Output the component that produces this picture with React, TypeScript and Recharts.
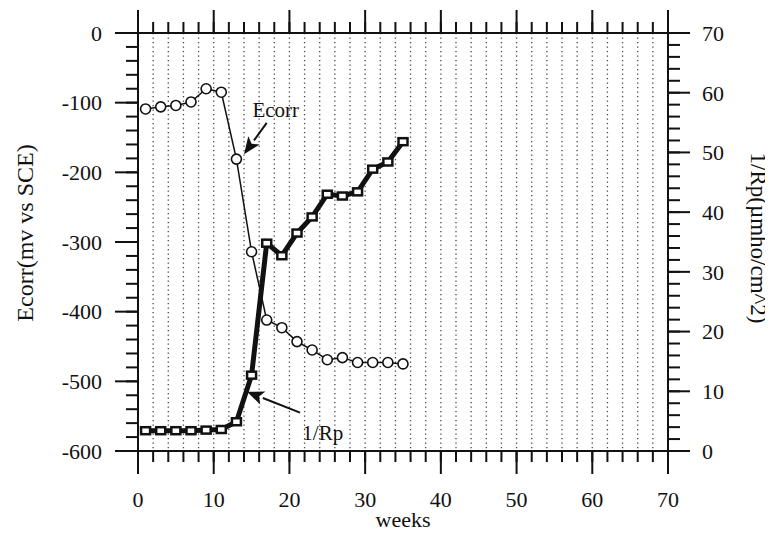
import { ComposedChart, Line, XAxis, YAxis, CartesianGrid, ReferenceLine, ReferenceDot } from 'recharts';

// weeks of exposure
const weeks = [1, 3, 5, 7, 9, 11, 13, 15, 17, 19, 21, 23, 25, 27, 29, 31, 33, 35];
// corrosion potential, mV vs SCE (left axis)
const ecorr = [-109, -106, -104, -99, -80, -85, -181, -314, -412, -423, -443, -455, -469, -466, -473, -473, -473, -475];
// 1/Rp, umho/cm^2 (right axis)
const invRp = [3.4, 3.4, 3.4, 3.4, 3.5, 3.6, 4.9, 12.7, 34.8, 32.7, 36.5, 39.2, 43, 42.7, 43.4, 47.2, 48.4, 51.8];

const weekMajor = [0, 10, 20, 30, 40, 50, 60, 70];
const weekMinor = [0, 2, 4, 6, 8, 10, 12, 14, 16, 18, 20, 22, 24, 26, 28, 30, 32, 34, 36, 38, 40, 42, 44, 46, 48, 50, 52, 54, 56, 58, 60, 62, 64, 66, 68, 70];
const ecorrMajor = [-600, -500, -400, -300, -200, -100, 0];
const ecorrMinor = [-600, -580, -560, -540, -520, -500, -480, -460, -440, -420, -400, -380, -360, -340, -320, -300, -280, -260, -240, -220, -200, -180, -160, -140, -120, -100, -80, -60, -40, -20, 0];
const rpMajor = [0, 10, 20, 30, 40, 50, 60, 70];
const rpMinor = [0, 2, 4, 6, 8, 10, 12, 14, 16, 18, 20, 22, 24, 26, 28, 30, 32, 34, 36, 38, 40, 42, 44, 46, 48, 50, 52, 54, 56, 58, 60, 62, 64, 66, 68, 70];

// annotation anchors, in data units (weeks, mV)
const ecorrArrow = { tail: [17.0, -129], head: [14.0, -174], text: [18.2, -110] };
const rpArrow = { tail: [21.4, -545], head: [14.4, -515], text: [24.4, -574] };

const data = weeks.map((w, i) => ({ week: w, ecorr: ecorr[i], rp: invRp[i] }));

const FONT = '"Liberation Serif", "Times New Roman", serif';
const INK = '#111';
const tickStyle = { fontSize: 22, fill: INK, fontFamily: FONT };
const tickLineStyle = { stroke: INK, strokeWidth: 2 };
const axisLineStyle = { stroke: INK, strokeWidth: 2 };
const noTick = () => null;

const leftTitle = {
  value: 'Ecorr(mv vs SCE)',
  angle: -90,
  position: 'insideLeft',
  offset: 16,
  dy: -9,
  fontSize: 24,
  fill: INK,
  fontFamily: FONT,
  style: { textAnchor: 'middle' },
};
const rightTitle = {
  value: '1/Rp(µmho/cm^2)',
  angle: 90,
  position: 'insideRight',
  offset: 14,
  dy: -4,
  fontSize: 23,
  fill: INK,
  fontFamily: FONT,
  style: { textAnchor: 'middle' },
};
const ecorrDot = { r: 5, fill: '#fff', stroke: INK, strokeWidth: 1.6 };

const Arrow = ({ x1, y1, x2, y2 }: any) => {
  const dx = x2 - x1;
  const dy = y2 - y1;
  const len = Math.sqrt(dx * dx + dy * dy);
  const ux = dx / len;
  const uy = dy / len;
  const hl = 17;
  const hw = 7;
  const bx = x2 - ux * hl;
  const by = y2 - uy * hl;
  return (
    <g>
      <line x1={x1} y1={y1} x2={bx} y2={by} stroke={INK} strokeWidth={2} />
      <polygon
        points={`${x2},${y2} ${bx - uy * hw},${by + ux * hw} ${bx + ux * 4},${by + uy * 4} ${bx + uy * hw},${by - ux * hw}`}
        fill={INK}
      />
    </g>
  );
};

const textShape = (label: string) => ({ cx, cy }: any) => (
  <text x={cx} y={cy} dy="0.35em" textAnchor="middle" fontSize={21} fill={INK} fontFamily={FONT}>
    {label}
  </text>
);
const ecorrText = textShape('Ecorr');
const rpText = textShape('1/Rp');

const SquareDot = ({ cx, cy, index }: any) => (
  <rect key={index} x={cx - 4.5} y={cy - 3.5} width={9} height={7} fill="#fff" stroke={INK} strokeWidth={2.5} />
);

const WeeksLabel = ({ viewBox }: any) => (
  <text
    x={viewBox.x + viewBox.width / 2}
    y={viewBox.y + 75}
    textAnchor="middle"
    fontSize={22}
    fill={INK}
    fontFamily={FONT}
  >
    weeks
  </text>
);
const weeksLabel = <WeeksLabel />;
const squareDot = <SquareDot />;

export default function App() {
  return (
    <div style={{ width: 765, height: 550, marginBottom: -8 }}>
      <ComposedChart
        width={765}
        height={550}
        data={data}
        margin={{ top: 0, right: 0, bottom: 0, left: 0 }}
        style={{ fontFamily: FONT }}
      >
        {/* "a-" axes are 1px thick and hold the short ticks on the frame,
            "b-" axes sit outside them with the long ticks and labels */}
        <XAxis
          xAxisId="a-bottom"
          type="number"
          dataKey="week"
          domain={[0, 70]}
          ticks={weekMinor}
          interval={0}
          height={1}
          tickSize={11}
          tickLine={tickLineStyle}
          tick={noTick}
          axisLine={axisLineStyle}
        />
        <XAxis
          xAxisId="b-bottom"
          dataKey="week"
          type="number"
          domain={[0, 70]}
          ticks={weekMajor}
          interval={0}
          height={106}
          tickSize={22}
          tickMargin={17}
          tickLine={tickLineStyle}
          tick={tickStyle}
          axisLine={false}
          label={weeksLabel}
        />
        <XAxis
          xAxisId="a-top"
          orientation="top"
          type="number"
          dataKey="week"
          domain={[0, 70]}
          ticks={weekMinor}
          interval={0}
          height={1}
          tickSize={11}
          tickLine={tickLineStyle}
          tick={noTick}
          axisLine={axisLineStyle}
        />
        <XAxis
          xAxisId="b-top"
          orientation="top"
          type="number"
          dataKey="week"
          domain={[0, 70]}
          ticks={weekMajor}
          interval={0}
          height={24}
          tickSize={22}
          tickLine={tickLineStyle}
          tick={noTick}
          axisLine={false}
        />
        <YAxis
          yAxisId="a-left"
          type="number"
          dataKey="ecorr"
          domain={[-600, 0]}
          ticks={ecorrMinor}
          interval={0}
          width={1}
          tickSize={12}
          tickLine={tickLineStyle}
          tick={noTick}
          axisLine={axisLineStyle}
        />
        <YAxis
          yAxisId="b-left"
          type="number"
          dataKey="ecorr"
          domain={[-600, 0]}
          ticks={ecorrMajor}
          interval={0}
          width={129}
          tickSize={22}
          tickMargin={13}
          tickLine={tickLineStyle}
          tick={tickStyle}
          axisLine={false}
          label={leftTitle}
        />
        <YAxis
          yAxisId="a-right"
          orientation="right"
          type="number"
          dataKey="rp"
          domain={[0, 70]}
          ticks={rpMinor}
          interval={0}
          width={1}
          tickSize={12}
          tickLine={tickLineStyle}
          tick={noTick}
          axisLine={axisLineStyle}
        />
        <YAxis
          yAxisId="b-right"
          orientation="right"
          type="number"
          dataKey="rp"
          domain={[0, 70]}
          ticks={rpMajor}
          interval={0}
          width={104}
          tickSize={21}
          tickMargin={12}
          tickLine={tickLineStyle}
          tick={tickStyle}
          axisLine={false}
          label={rightTitle}
        />
        <CartesianGrid
          xAxisId="a-bottom"
          yAxisId="a-left"
          horizontal={false}
          stroke="#444"
          strokeWidth={1.3}
          strokeDasharray="1.3 3.2"
        />
        <Line
          xAxisId="a-bottom"
          yAxisId="a-left"
          dataKey="ecorr"
          type="linear"
          stroke={INK}
          strokeWidth={1.5}
          dot={ecorrDot}
          isAnimationActive={false}
        />
        <Line
          xAxisId="a-bottom"
          yAxisId="a-right"
          dataKey="rp"
          type="linear"
          stroke={INK}
          strokeWidth={5}
          dot={squareDot}
          isAnimationActive={false}
        />
        <ReferenceLine
          xAxisId="a-bottom"
          yAxisId="a-left"
          segment={[
            { x: ecorrArrow.tail[0], y: ecorrArrow.tail[1] },
            { x: ecorrArrow.head[0], y: ecorrArrow.head[1] },
          ]}
          shape={Arrow}
        />
        <ReferenceLine
          xAxisId="a-bottom"
          yAxisId="a-left"
          segment={[
            { x: rpArrow.tail[0], y: rpArrow.tail[1] },
            { x: rpArrow.head[0], y: rpArrow.head[1] },
          ]}
          shape={Arrow}
        />
        <ReferenceDot
          xAxisId="a-bottom"
          yAxisId="a-left"
          x={ecorrArrow.text[0]}
          y={ecorrArrow.text[1]}
          r={1}
          shape={ecorrText}
        />
        <ReferenceDot
          xAxisId="a-bottom"
          yAxisId="a-left"
          x={rpArrow.text[0]}
          y={rpArrow.text[1]}
          r={1}
          shape={rpText}
        />
      </ComposedChart>
    </div>
  );
}
